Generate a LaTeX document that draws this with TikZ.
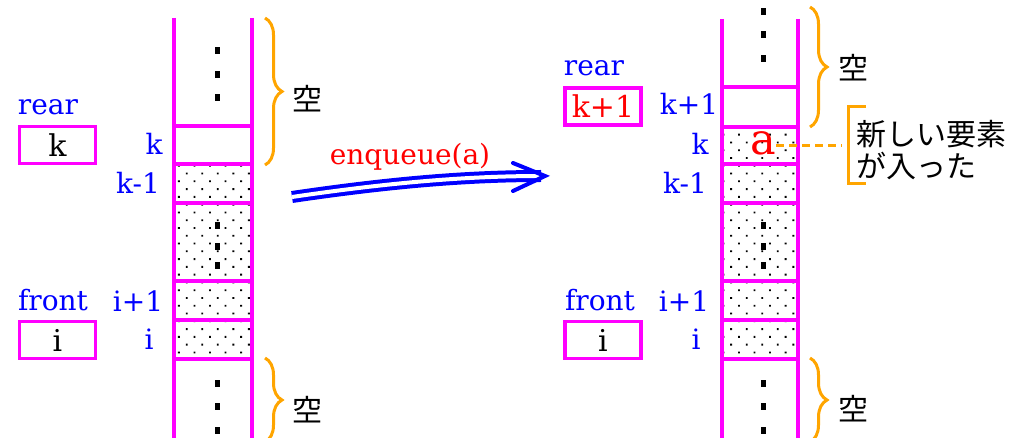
\documentclass[tikz,border=0pt]{standalone}
\usepackage{fontspec}
\setmainfont{DejaVu Serif}
\newfontfamily\jpfont{Noto Sans CJK JP}
\usetikzlibrary{patterns.meta,decorations.pathreplacing,arrows.meta}
\definecolor{mag}{RGB}{255,0,255}
\definecolor{org}{RGB}{255,165,0}
\begin{document}
\begin{tikzpicture}[x=1pt,y=-1pt,
  colline/.style={mag,line width=3.4pt},
  lbl/.style={text=blue,font=\fontsize{28}{30}\selectfont,inner sep=0pt,anchor=base},
  valbox/.style={draw=mag,line width=3.4pt,minimum width=76pt,minimum height=37pt,inner sep=0pt,font=\fontsize{30}{30}\selectfont},
  bracest/.style={org,line width=3pt,decorate,decoration={brace,amplitude=17pt}},
  jp/.style={font=\jpfont\fontsize{30}{30}\selectfont,inner sep=0pt},
  filled/.style={pattern={Dots[radius=1.3pt,distance=11pt,angle=45]},pattern color=black},
  vdot/.style={fill=black}]
\useasboundingbox (0,0) rectangle (1016,438);

% ---------- left queue ----------
\fill[filled] (174,164) rectangle (252,359);
\foreach \y in {51,75,98,226,246,265,383,406,430}
  \fill[vdot] (215,\y-3.5) rectangle (219.5,\y+3.5);
\draw[colline] (174,18) -- (174,445) (252,18) -- (252,445);
\foreach \y in {126,164,203,281,320,359}
  \draw[colline] (174,\y) -- (252,\y);
\draw[bracest] (265,18) -- (265,165);
\draw[bracest] (265,358) -- (265,442);
\node[jp] (emL1) at (307,99) {空};
\node[jp] (emL2) at (307,410) {空};

\node[lbl] (rearL) at (48,115) {rear};
\node[valbox] (rbL) at (57.5,145) {k};
\node[lbl] (frontL) at (53,310) {front};
\node[valbox] (fbL) at (57.5,340) {i};
\node[lbl] (lkL) at (154,155) {k};
\node[lbl] (lkmL) at (138,194) {k-1};
\node[lbl] (liL) at (138,311) {i+1};
\node[lbl] (liiL) at (149,349) {i};

% ---------- arrow ----------
\node[lbl,text=red] (enq) at (410,165) {enqueue(a)};
\coordinate (aS) at (292,197);
\coordinate (aE) at (541,176);
\draw[blue,line width=4pt,double=white,double distance=4pt]
  (aS) .. controls (380,184) and (460,176) .. (aE);
\draw[blue,line width=4pt,line cap=round,line join=miter]
  ([shift={(-28,-13)}]aE) -- ([shift={(4,0)}]aE) -- ([shift={(-28,15)}]aE);

% ---------- right queue ----------
\fill[filled] (722,127) rectangle (798,359);
\foreach \y in {12,35,59,226,246,265,383,406,430}
  \fill[vdot] (761,\y-3.5) rectangle (765.5,\y+3.5);
\draw[colline] (722,19) -- (722,445) (798,19) -- (798,445);
\foreach \y in {87,127,164,203,281,320,359}
  \draw[colline] (722,\y) -- (798,\y);
\draw[bracest] (810,7) -- (810,127);
\draw[bracest] (810,358) -- (810,442);
\node[jp] (emR1) at (853,68) {空};
\node[jp] (emR2) at (853,409) {空};

\node[lbl] (rearR) at (594,76) {rear};
\node[valbox,text=red] (rbR) at (603,106.5) {k+1};
\node[lbl] (frontR) at (600,310) {front};
\node[valbox] (fbR) at (603,340) {i};
\node[lbl] (lkpR) at (689,115) {k+1};
\node[lbl] (lkR) at (700,155) {k};
\node[lbl] (lkmR) at (685,194) {k-1};
\node[lbl] (liR) at (684,311) {i+1};
\node[lbl] (liiR) at (696,349) {i};

\node[inner sep=0pt,anchor=base,text=red,font=\fontsize{43}{43}\selectfont] (newa) at (763,155) {a};
\coordinate (brk) at (842,146);
\draw[org,line width=3pt,dash pattern=on 8pt off 5pt] (newa.east |- brk) -- (brk);
\draw[org,line width=3pt] (866,107) -- (848,107) -- (848,184) -- (866,184);
\node[jp,anchor=west,align=left,font=\jpfont\fontsize{30}{32}\selectfont] (newtxt) at (856,150) {新しい要素\\が入った};
\end{tikzpicture}
\end{document}
